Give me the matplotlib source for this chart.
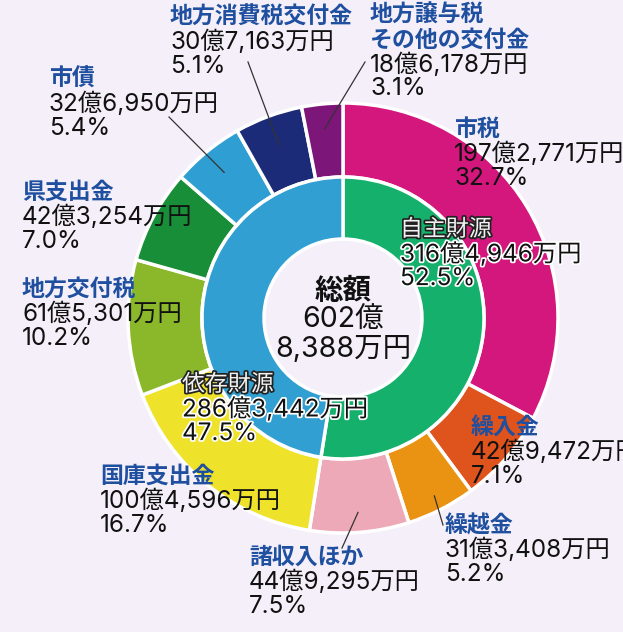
import numpy as np
import matplotlib.pyplot as plt
import matplotlib.patheffects as pe

plt.rcParams['font.family'] = ['Inter', 'Noto Sans CJK JP', 'DejaVu Sans']

# outer ring (clockwise from 12 o'clock), 億円
outer_names = ['市税', '繰入金', '繰越金', '諸収入ほか', '国庫支出金', '地方交付税',
               '県支出金', '市債', '地方消費税交付金', '地方譲与税\nその他の交付金']
outer_vals = [197.2771, 42.9472, 31.3408, 44.9295, 100.4596, 61.5301,
              42.3254, 32.6950, 30.7163, 18.6178]
outer_amt = ['197億2,771万円', '42億9,472万円', '31億3,408万円', '44億9,295万円',
             '100億4,596万円', '61億5,301万円', '42億3,254万円', '32億6,950万円',
             '30億7,163万円', '18億6,178万円']
outer_pct = ['32.7%', '7.1%', '5.2%', '7.5%', '16.7%', '10.2%', '7.0%', '5.4%',
             '5.1%', '3.1%']
outer_colors = ['#d4177d', '#df531c', '#ea9212', '#eda9b7', '#efe22a', '#8ab82a',
                '#178e37', '#2f9fd3', '#1b2b78', '#7c1679']

inner_names = ['自主財源', '依存財源']
inner_vals = [316.4946, 286.3442]
inner_amt = ['316億4,946万円', '286億3,442万円']
inner_pct = ['52.5%', '47.5%']
inner_colors = ['#15b06b', '#319fd1']

total_lines = ['総額', '602億', '8,388万円']

W, H = 623, 632
cx, cy = 343, 318

def Y(py):
    return H - py

fig = plt.figure(figsize=(W / 100, H / 100), dpi=100)
fig.patch.set_facecolor('#f4eff9')
ax = fig.add_axes([0, 0, 1, 1])
ax.set_xlim(0, W)
ax.set_ylim(0, H)
ax.set_aspect('equal')
ax.axis('off')

ax.pie(outer_vals, radius=215, center=(cx, Y(cy)), startangle=90, counterclock=False,
       colors=outer_colors, wedgeprops=dict(width=74, edgecolor='white', linewidth=2.5))
ax.pie(inner_vals, radius=141, center=(cx, Y(cy)), startangle=90, counterclock=False,
       colors=inner_colors, wedgeprops=dict(width=62, edgecolor='white', linewidth=2.5))
ax.set_xlim(0, W)
ax.set_ylim(0, H)

fs = 16.5
fs_num = 17.5
name_col = '#1f4f9f'
# label layout: left x, first line centre y (pixels from top)
outer_pos = [(454, 130), (471, 428), (445, 526), (249, 558), (100, 477),
             (22, 290), (22, 193), (49, 80), (170, 18), (370, 16)]
step = 24.3
for name, amt, pct, (lx, ly) in zip(outer_names, outer_amt, outer_pct, outer_pos):
    lines = name.split('\n')
    for i, t in enumerate(lines):
        ax.text(lx, Y(ly + i * step), t, color=name_col, fontsize=fs, fontweight='bold',
                ha='left', va='center')
    n = len(lines)
    ax.text(lx, Y(ly + n * step), amt, color='#111111', fontsize=fs_num, ha='left', va='center')
    ax.text(lx, Y(ly + (n + 1) * step), pct, color='#111111', fontsize=fs_num, ha='left', va='center')

# leader lines: from wedge middle to label
cum = np.cumsum([0] + outer_vals)
tot = sum(outer_vals)
leaders = {2: (443, 525, 200), 3: (342, 548, 195), 7: (169, 117, 188),
           8: (248, 62, 185), 9: (365, 62, 190)}
for k, (ex, ey, r) in leaders.items():
    ang = np.deg2rad((cum[k] + outer_vals[k] / 2) / tot * 360)
    px = cx + r * np.sin(ang)
    py = cy - r * np.cos(ang)
    ax.plot([px, ex], [Y(py), Y(ey)], color='#333333', lw=0.9)

halo_w = [pe.withStroke(linewidth=2.5, foreground='white')]
halo_k = [pe.withStroke(linewidth=2.5, foreground='#222222')]
inner_pos = [(400, 230), (182, 385)]
for name, amt, pct, (lx, ly) in zip(inner_names, inner_amt, inner_pct, inner_pos):
    ax.text(lx, Y(ly), name, color='#f2f2f2', fontsize=fs, ha='left', va='center',
            path_effects=halo_k)
    ax.text(lx, Y(ly + step), amt, color='#111111', fontsize=fs_num, ha='left', va='center',
            path_effects=halo_w)
    ax.text(lx, Y(ly + 2 * step), pct, color='#111111', fontsize=fs_num, ha='left', va='center',
            path_effects=halo_w)

for i, t in enumerate(total_lines):
    ax.text(cx, Y(291 + i * 29.5), t, color='#111111', fontsize=20.5,
            fontweight='bold' if i == 0 else 'normal', ha='center', va='center')

fig.savefig('out.png', dpi=100, facecolor=fig.get_facecolor())
